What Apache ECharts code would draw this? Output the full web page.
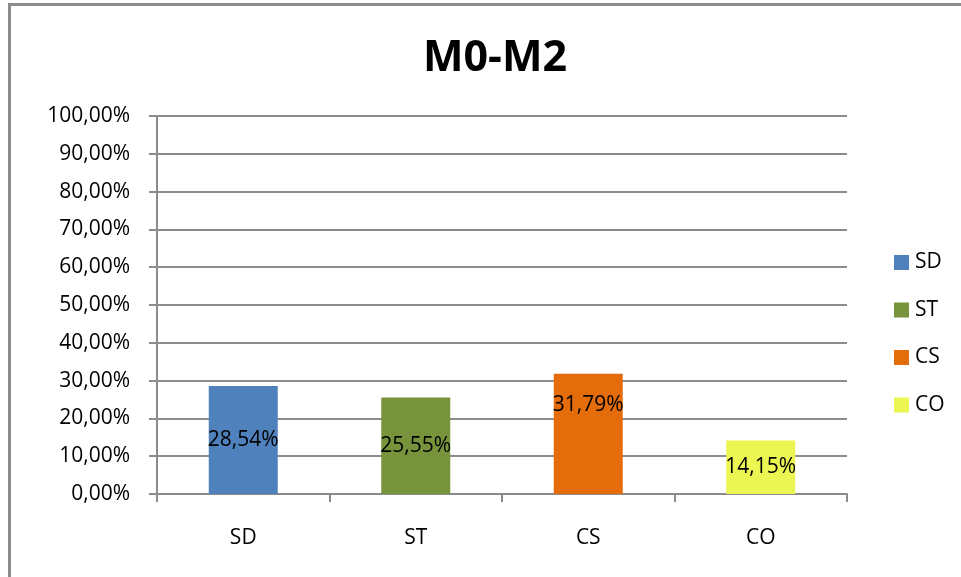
<!DOCTYPE html>
<html>
<head>
<meta charset="utf-8">
<script src="https://cdn.jsdelivr.net/npm/echarts@6/dist/echarts.min.js"></script>
<style>
html,body{margin:0;padding:0;background:#fff;}
#frame{position:absolute;left:8px;top:3px;width:1000px;height:620px;border:3px solid #8c8c8c;box-sizing:border-box;}
#chart{position:absolute;left:0;top:0;width:961px;height:577px;}
</style>
</head>
<body>
<div id="frame"></div>
<div id="chart"></div>
<script>
// Shares per group, in percent
const categories = ['SD', 'ST', 'CS', 'CO'];
const shares = [28.54, 25.55, 31.79, 14.15];
const colors = ['#4F81BD', '#77933C', '#E46C0A', '#ECF652'];
const yMax = 100;
const yStep = 10;

const fmt = v => v.toFixed(2).replace('.', ',') + '%';
const FONT = 'Open Sans';
const FS = 21;

const series = categories.map((name, i) => ({
  name: name,
  type: 'bar',
  stack: 'all',
  barWidth: '40%',
  itemStyle: { color: colors[i] },
  data: categories.map((c, j) => (j === i ? shares[i] : '-')),
  label: {
    show: true,
    position: name === 'CS' ? 'insideTop' : 'inside',
    offset: name === 'CS' ? [0, 16] : [0, 0],
    formatter: p => fmt(p.value),
    color: '#000',
    fontFamily: FONT,
    fontSize: FS
  }
}));

const chart = echarts.init(document.getElementById('chart'), null, { renderer: 'canvas' });
chart.setOption({
  animation: false,
  backgroundColor: 'transparent',
  title: {
    text: 'M0-M2',
    left: 490,
    textAlign: 'center',
    top: 32,
    textStyle: { fontFamily: FONT, fontSize: 43, fontWeight: 'bold', color: '#000' }
  },
  legend: {
    orient: 'vertical',
    left: 889,
    top: 247,
    itemWidth: 15,
    itemHeight: 15,
    itemGap: 26.5,
    icon: 'rect',
    data: categories,
    textStyle: { fontFamily: FONT, fontSize: FS, color: '#000', padding: [0, 0, 0, 1] }
  },
  grid: { left: 157, right: 114, top: 116, bottom: 83, containLabel: false },
  xAxis: {
    type: 'category',
    data: categories,
    axisLine: { lineStyle: { color: '#8c8c8c', width: 2 } },
    axisTick: { show: true, length: 8, lineStyle: { color: '#8c8c8c', width: 2 } },
    axisLabel: { margin: 34, color: '#000', fontFamily: FONT, fontSize: FS }
  },
  yAxis: {
    type: 'value',
    min: 0,
    max: yMax,
    interval: yStep,
    axisLine: { show: true, lineStyle: { color: '#8c8c8c', width: 2 } },
    axisTick: { show: true, length: 8, lineStyle: { color: '#8c8c8c', width: 2 } },
    splitLine: { show: true, lineStyle: { color: '#8c8c8c', width: 2 } },
    axisLabel: { margin: 27, color: '#000', fontFamily: FONT, fontSize: FS, formatter: v => fmt(v) }
  },
  series: series
});
</script>
</body>
</html>
